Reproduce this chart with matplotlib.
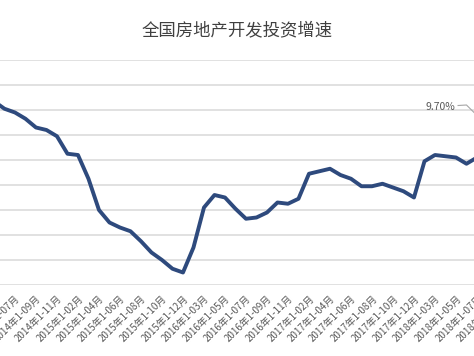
import matplotlib
matplotlib.use("Agg")
import numpy as np
import matplotlib.pyplot as plt

plt.rcParams['font.family'] = ['Noto Sans CJK SC', 'DejaVu Sans']

# data (cumulative growth, %), Jan-Feb reported together
months = (["2014年1-%02d月" % m for m in range(5, 13)]
          + ["2015年1-%02d月" % m for m in range(2, 13)]
          + ["2016年1-%02d月" % m for m in range(2, 13)]
          + ["2017年1-%02d月" % m for m in range(2, 13)]
          + ["2018年1-%02d月" % m for m in range(2, 10)])
growth_2014 = [14.7, 14.1, 13.8, 13.3, 12.6, 12.4, 11.9, 10.5]
growth_2015 = [10.4, 8.5, 6.0, 5.0, 4.6, 4.3, 3.5, 2.6, 2.0, 1.3, 1.0]
growth_2016 = [3.0, 6.2, 7.2, 7.0, 6.1, 5.3, 5.4, 5.8, 6.6, 6.5, 6.9]
growth_2017 = [8.9, 9.1, 9.3, 8.8, 8.5, 7.9, 7.9, 8.1, 7.8, 7.5, 7.0]
growth_2018 = [9.9, 10.4, 10.3, 10.2, 9.7, 10.2, np.nan, np.nan]
growth = growth_2014 + growth_2015 + growth_2016 + growth_2017 + growth_2018
label_text = "9.70%"

LINE = "#2e4a7d"
GRID = "#d9d9d9"
TEXT = "#595959"

fig = plt.figure(figsize=(4.74, 3.56), dpi=100)
# the picture is a crop of a wider chart, so the axes run past both edges
ax = fig.add_axes([-0.1, 71 / 356, 1.2, 225 / 356])

x = np.arange(len(months))
ax.plot(x, growth, color=LINE, linewidth=2.8, solid_joinstyle='round', zorder=3)

ax.set_xticks(x[::2])
ax.set_xticklabels(months[::2], rotation=45, ha='right', rotation_mode='anchor')
ax.set_ylim(0, 18)
ax.set_yticks(np.arange(0, 19, 2))
ax.set_xlim(-3.94, 50.23)
ax.grid(axis='y', color=GRID, linewidth=1.1)
ax.set_axisbelow(True)
for s in ax.spines.values():
    s.set_visible(False)
ax.tick_params(axis='y', left=False, labelleft=False)
ax.tick_params(axis='x', length=0, pad=6, labelsize=7, labelcolor=TEXT)

# data label with leader line running off to the right
ax.text(42.5, 14.24, label_text, ha='center', va='center', fontsize=7.5, color=TEXT)
ax.plot([44.2, 45.0, 46.2], [14.36, 14.4, 13.4], color="#a6a6a6", linewidth=0.8)

fig.text(0.5, 0.916, "全国房地产开发投资增速", ha='center', va='center',
         fontsize=12.5, color="#404040")

fig.savefig("out.png", dpi=100)
